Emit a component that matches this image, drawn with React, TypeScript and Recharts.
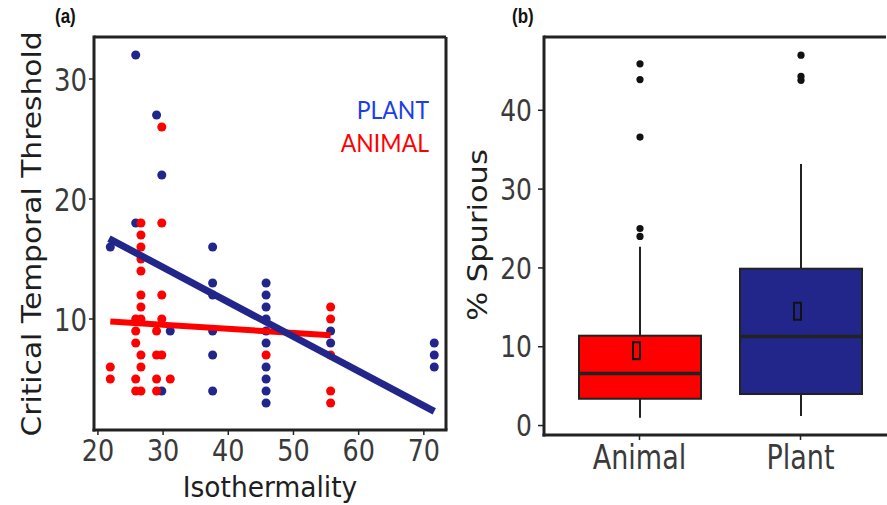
import React from "react";
import { ScatterChart, Scatter, XAxis, YAxis, ZAxis, ComposedChart, Bar, ReferenceLine } from "recharts";

// panel (a): isothermality vs critical temporal threshold
const isoTicks = [20, 30, 40, 50, 60, 70];
const thresholdTicks = [10, 20, 30];

const plantPoints = [
  { x: 21.9, y: 16 },
  { x: 25.8, y: 32 }, { x: 25.8, y: 18 },
  { x: 29.0, y: 27 },
  { x: 29.8, y: 22 }, { x: 29.8, y: 4 },
  { x: 31.1, y: 9 },
  { x: 37.6, y: 16 }, { x: 37.6, y: 13 }, { x: 37.6, y: 12 }, { x: 37.6, y: 9 }, { x: 37.6, y: 7 }, { x: 37.6, y: 4 },
  { x: 45.8, y: 13 }, { x: 45.8, y: 12 }, { x: 45.8, y: 11 }, { x: 45.8, y: 10 }, { x: 45.8, y: 9 },
  { x: 45.8, y: 8 }, { x: 45.8, y: 6 }, { x: 45.8, y: 5 }, { x: 45.8, y: 4 }, { x: 45.8, y: 3 },
  { x: 55.7, y: 9 }, { x: 55.7, y: 8 },
  { x: 71.6, y: 8 }, { x: 71.6, y: 7 }, { x: 71.6, y: 6 },
];

const animalPoints = [
  { x: 21.9, y: 6 }, { x: 21.9, y: 5 },
  { x: 25.8, y: 10 }, { x: 25.8, y: 9 }, { x: 25.8, y: 8 }, { x: 25.8, y: 5 }, { x: 25.8, y: 4 },
  { x: 26.6, y: 18 }, { x: 26.6, y: 17 }, { x: 26.6, y: 16 }, { x: 26.6, y: 15 }, { x: 26.6, y: 14 },
  { x: 26.6, y: 12 }, { x: 26.6, y: 11 }, { x: 26.6, y: 10 }, { x: 26.6, y: 7 }, { x: 26.6, y: 6 }, { x: 26.6, y: 4 },
  { x: 29.0, y: 9 }, { x: 29.0, y: 7 }, { x: 29.0, y: 5 }, { x: 29.0, y: 4 },
  { x: 29.8, y: 26 }, { x: 29.8, y: 18 }, { x: 29.8, y: 12 }, { x: 29.8, y: 10 }, { x: 29.8, y: 7 },
  { x: 31.1, y: 5 },
  { x: 45.8, y: 7 },
  { x: 55.7, y: 11 }, { x: 55.7, y: 10 }, { x: 55.7, y: 7 }, { x: 55.7, y: 4 }, { x: 55.7, y: 3 },
];

const plantFit = [{ x: 21.7, y: 16.7 }, { x: 71.6, y: 2.3 }];
const animalFit = [{ x: 21.9, y: 9.8 }, { x: 55.7, y: 8.65 }];

// panel (b): % spurious boxplots
const groups = ["Animal", "Plant"];
const boxMin = [1.0, 1.2];
const boxQ1 = [3.4, 4.0];
const boxMedian = [6.6, 11.3];
const boxQ3 = [11.4, 19.9];
const boxMax = [22.7, 33.2];
const boxMean = [9.5, 14.5];
const animalOutliers = [24.0, 25.0, 36.6, 43.9, 45.9];
const plantOutliers = [43.8, 44.3, 47.0];
const spuriousTicks = [0, 10, 20, 30, 40];

const NAVY = "#22268a";
const RED = "#ff0000";
const FRAME = "#222222";
const TICK_TEXT = "#3a3a3a";
const TITLE_TEXT = "#1e1e1e";
const FONT = "DejaVu Sans";

const boxColors = [RED, NAVY];
const boxOutliers = [animalOutliers, plantOutliers];

const boxData = groups.map((g, i) => ({
  group: g,
  min: boxMin[i],
  q1: boxQ1[i],
  median: boxMedian[i],
  q3: boxQ3[i],
  max: boxMax[i],
  mean: boxMean[i],
  outliers: boxOutliers[i],
  color: boxColors[i],
}));

const noShape = () => <g />;

function BoxShape(props: any) {
  const { x, y, width, height, payload } = props;
  const top = Math.min(y, y + height);
  const span = Math.abs(height);
  const k = span / (payload.max - payload.min);
  const py = (v: number) => top + (payload.max - v) * k;
  const cx = x + width / 2;
  return (
    <g>
      <line x1={cx} x2={cx} y1={py(payload.max)} y2={py(payload.q3)} stroke={FRAME} strokeWidth={2} />
      <line x1={cx} x2={cx} y1={py(payload.q1)} y2={py(payload.min)} stroke={FRAME} strokeWidth={2} />
      <rect
        x={x}
        y={py(payload.q3)}
        width={width}
        height={py(payload.q1) - py(payload.q3)}
        fill={payload.color}
        stroke={FRAME}
        strokeWidth={2}
      />
      <line x1={x} x2={x + width} y1={py(payload.median)} y2={py(payload.median)} stroke={FRAME} strokeWidth={3.5} />
      <rect x={cx - 7} y={py(payload.mean) - 8.5} width={7} height={17} fill="none" stroke="#111" strokeWidth={2} />
      {payload.outliers.map((o: number, i: number) => (
        <circle key={i} cx={cx} cy={py(o)} r={3.6} fill="#111" />
      ))}
    </g>
  );
}

// the source figure is stretched vertically, so tick text is too
function stretchedTick(fontSize: number, stretch: number, anchor: "middle" | "end", dy: string) {
  return (props: any) => {
    const { x, y, payload } = props;
    return (
      <g transform={`translate(${x},${y}) scale(1,${stretch})`}>
        <text x={0} y={0} dy={dy} textAnchor={anchor} fontSize={fontSize} fontFamily={FONT} fill={TICK_TEXT}>
          {payload.value}
        </text>
      </g>
    );
  };
}

const axisLine = { stroke: FRAME, strokeWidth: 3, strokeLinecap: "square" as const };
const tickLine = { stroke: FRAME, strokeWidth: 1.5 };

export default function App() {
  return (
    <div style={{ position: "absolute", left: 0, top: 0, width: 887, height: 505, background: "#fff" }}>
      <div style={{ position: "absolute", left: 0, top: 0 }}>
        <ScatterChart width={460} height={505} margin={{ top: 37, right: 14, bottom: 0, left: 0 }}>
          <XAxis
            type="number"
            dataKey="x"
            domain={[19.4, 73.4]}
            ticks={isoTicks}
            allowDataOverflow
            height={75}
            axisLine={axisLine}
            tickLine={tickLine}
            tickSize={5}
            tickMargin={5}
            tick={stretchedTick(25.5, 1.15, "middle", "0.71em")}
          />
          <YAxis
            type="number"
            dataKey="y"
            domain={[0.75, 33.5]}
            ticks={thresholdTicks}
            allowDataOverflow
            width={94}
            axisLine={axisLine}
            tickLine={tickLine}
            tickSize={5}
            tickMargin={2}
            tick={stretchedTick(26, 1.25, "end", "0.355em")}
          />
          <ZAxis range={[64, 64]} />
          <ReferenceLine y={33.5} stroke={FRAME} strokeWidth={3} ifOverflow="visible" />
          <ReferenceLine x={73.4} stroke={FRAME} strokeWidth={3} ifOverflow="visible" />
          <Scatter data={plantPoints} fill={NAVY} isAnimationActive={false} />
          <Scatter data={animalPoints} fill={RED} isAnimationActive={false} />
          <Scatter data={animalFit} fill={RED} shape={noShape} line={{ stroke: RED, strokeWidth: 6 }} isAnimationActive={false} />
          <Scatter data={plantFit} fill={NAVY} shape={noShape} line={{ stroke: NAVY, strokeWidth: 7 }} isAnimationActive={false} />
        </ScatterChart>
      </div>
      <div style={{ position: "absolute", left: 460, top: 0 }}>
        <ComposedChart width={427} height={505} data={boxData} margin={{ top: 37, right: 1, bottom: 0, left: 0 }}>
          <XAxis
            dataKey="group"
            padding={{ left: 15, right: 5 }}
            height={70}
            axisLine={axisLine}
            tickLine={tickLine}
            tickSize={5}
            tickMargin={5}
            tick={stretchedTick(27, 1.25, "middle", "0.71em")}
          />
          <YAxis
            type="number"
            domain={[-1.2, 49.3]}
            ticks={spuriousTicks}
            allowDataOverflow
            width={84}
            axisLine={axisLine}
            tickLine={tickLine}
            tickSize={6}
            tickMargin={6}
            tick={stretchedTick(25, 1.2, "end", "0.355em")}
          />
          <ReferenceLine y={49.3} stroke={FRAME} strokeWidth={3} ifOverflow="visible" />
          <Bar dataKey={(d: any) => [d.min, d.max]} barSize={122} shape={BoxShape} isAnimationActive={false} />
        </ComposedChart>
      </div>
      <svg width={887} height={505} style={{ position: "absolute", left: 0, top: 0, pointerEvents: "none" }}>
        <g transform="translate(55,23) scale(1,1.2)">
          <text x={0} y={0} fontFamily="Liberation Sans" fontWeight="bold" fontSize={17} fill="#111">(a)</text>
        </g>
        <g transform="translate(512,23) scale(1,1.2)">
          <text x={0} y={0} fontFamily="Liberation Sans" fontWeight="bold" fontSize={17} fill="#111">(b)</text>
        </g>
        <g transform="translate(429,119) scale(1,1.1)">
          <text x={0} y={0} textAnchor="end" fontFamily="Lato" fontSize={23} fill="#1a3ee8">PLANT</text>
        </g>
        <g transform="translate(429,152) scale(1,1.1)">
          <text x={0} y={0} textAnchor="end" fontFamily="Lato" fontSize={23} fill={RED}>ANIMAL</text>
        </g>
        <g transform="translate(270,497) scale(1,1.08)">
          <text x={0} y={0} textAnchor="middle" fontFamily={FONT} fontSize={26.5} fill={TITLE_TEXT}>Isothermality</text>
        </g>
        <g transform="translate(41,234) scale(1,1.1) rotate(-90)">
          <text x={0} y={0} textAnchor="middle" fontFamily={FONT} fontSize={27} fill={TITLE_TEXT}>
            Critical Temporal Threshold
          </text>
        </g>
        <g transform="translate(487,235) scale(1,1.13) rotate(-90)">
          <text x={0} y={0} textAnchor="middle" fontFamily={FONT} fontSize={27} fill={TITLE_TEXT}>
            % Spurious
          </text>
        </g>
      </svg>
    </div>
  );
}
